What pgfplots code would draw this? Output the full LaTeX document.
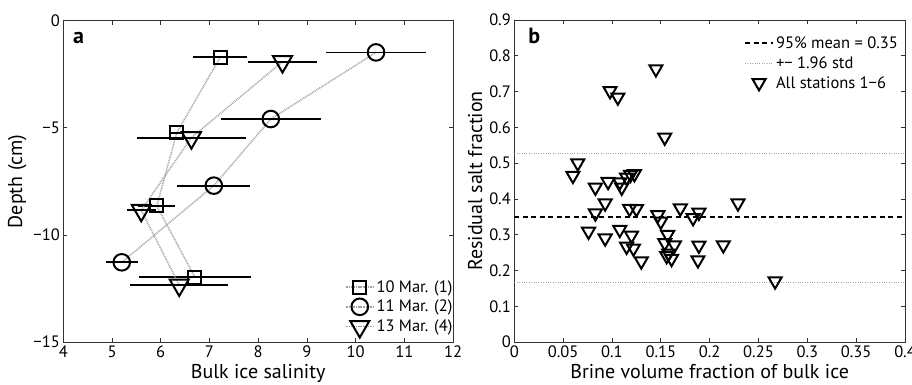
\documentclass[border=0pt]{standalone}
\usepackage{pgfplots}
\pgfplotsset{compat=1.18}
\usepackage{fontspec}
\setmainfont{PT Sans}
\pgfplotstableread{
x y e
7.22 -1.71 0.55
6.33 -5.23 0.12
5.92 -8.65 0.38
6.70 -11.97 1.15
}\tblA
\pgfplotstableread{
x y e
10.42 -1.48 1.03
8.26 -4.59 1.03
7.09 -7.70 0.75
5.20 -11.28 0.33
}\tblB
\pgfplotstableread{
x y e
8.50 -1.91 0.71
6.63 -5.46 1.12
5.60 -8.85 0.30
6.38 -12.34 1.01
}\tblC
\pgfplotstableread{
x y
0.145 0.763
0.098 0.702
0.106 0.684
0.154 0.572
0.065 0.500
0.060 0.465
0.083 0.432
0.096 0.448
0.108 0.447
0.110 0.432
0.115 0.460
0.119 0.468
0.123 0.470
0.093 0.388
0.083 0.360
0.118 0.373
0.125 0.372
0.147 0.355
0.150 0.337
0.170 0.374
0.183 0.347
0.189 0.362
0.229 0.388
0.076 0.309
0.093 0.290
0.108 0.314
0.120 0.298
0.115 0.267
0.122 0.262
0.130 0.226
0.157 0.300
0.154 0.277
0.164 0.271
0.156 0.241
0.158 0.248
0.161 0.233
0.189 0.270
0.188 0.229
0.214 0.271
0.267 0.170
}\tblD
\begin{document}
\begin{tikzpicture}
\useasboundingbox (0pt,0pt) rectangle (912pt,-385pt);
\pgfplotsset{
  common/.style={
    scale only axis,
    tick align=inside,
    axis line style={line width=0.9pt, black!80},
    tick style={line width=0.7pt, black!80},
    major tick length=4pt,
    ticklabel style={font=\fontsize{16.5}{18}\selectfont},
    label style={font=\fontsize{20}{22}\selectfont},
    /pgf/number format/assume math mode=true,
    legend cell align=left,
  },
  dotser/.style={color=gray!75, line width=1.6pt, dash pattern=on 0.8pt off 0.9pt,
    mark options={solid, black, line width=2pt, fill=none},
    error bars/x dir=both, error bars/x explicit, error bars/error mark=none,
    error bars/error bar style={solid, black, line width=1.8pt}},
}
\begin{axis}[common, at={(63.3pt,-342pt)}, anchor=south west,
  width=389.7pt, height=321.3pt,
  xmin=4, xmax=12, ymin=-15, ymax=0,
  xtick={4,5,6,7,8,9,10,11,12},
  ytick={-15,-10,-5,0}, yticklabels={−15,−10,−5,0},
  xlabel={Bulk ice salinity}, ylabel={Depth (cm)},
  legend style={draw=none, fill=none, at={(1.012,0.007)}, anchor=south east,
    font=\fontsize{16.5}{18}\selectfont, row sep=2.5pt},
  legend image code/.code={\draw[mark repeat=2,mark phase=2] plot coordinates {(0pt,0pt)(14pt,0pt)(28pt,0pt)};},
]
\addplot[dotser, mark=square, mark size=6.5pt] table[x=x, y=y, x error=e] {\tblA};
\addlegendentry{10 Mar. (1)}
\addplot[dotser, mark=o, mark size=8.3pt] table[x=x, y=y, x error=e] {\tblB};
\addlegendentry{11 Mar. (2)}
\addplot[dotser, mark=triangle, mark size=11pt, every mark/.append style={rotate=180}] table[x=x, y=y, x error=e] {\tblC};
\addlegendentry{13 Mar. (4)}
\node[anchor=base west, font=\fontsize{22}{24}\selectfont\bfseries] at (rel axis cs:0.016,0.93) {a};
\end{axis}
\begin{axis}[common, at={(514.3pt,-342pt)}, anchor=south west,
  width=390.7pt, height=322pt,
  xmin=0, xmax=0.4, ymin=0, ymax=0.9,
  xtick={0,0.05,0.1,0.15,0.2,0.25,0.3,0.35,0.4},
  xticklabels={0,0.05,0.1,0.15,0.2,0.25,0.3,0.35,0.4},
  ytick={0,0.1,0.2,0.3,0.4,0.5,0.6,0.7,0.8,0.9},
  yticklabels={0,0.1,0.2,0.3,0.4,0.5,0.6,0.7,0.8,0.9},
  xlabel={Brine volume fraction of bulk ice}, ylabel={Residual salt fraction},
  legend style={draw=none, fill=none, at={(0.995,0.961)}, anchor=north east,
    font=\fontsize{16.5}{18}\selectfont, row sep=2.5pt},
  legend image code/.code={\draw[mark repeat=2,mark phase=2] plot coordinates {(0pt,0pt)(14pt,0pt)(28pt,0pt)};},
]
\addplot[black, line width=2pt, dash pattern=on 5pt off 3.5pt] coordinates {(0,0.348) (0.4,0.348)};
\addlegendentry{95\% mean = 0.35}
\addplot[gray!70, line width=0.8pt, dash pattern=on 0.8pt off 1.6pt] coordinates {(0,0.528) (0.4,0.528)};
\addlegendentry{+− 1.96 std}
\addplot[gray!70, line width=0.8pt, dash pattern=on 0.8pt off 1.6pt, forget plot] coordinates {(0,0.167) (0.4,0.167)};
\addplot[only marks, mark=triangle, mark size=7.5pt, mark options={rotate=180, line width=2pt, black, fill=none}] table[x=x, y=y] {\tblD};
\addlegendentry{All stations 1−6}
\node[anchor=base west, font=\fontsize{22}{24}\selectfont\bfseries] at (rel axis cs:0.027,0.928) {b};
\end{axis}
\end{tikzpicture}
\end{document}
